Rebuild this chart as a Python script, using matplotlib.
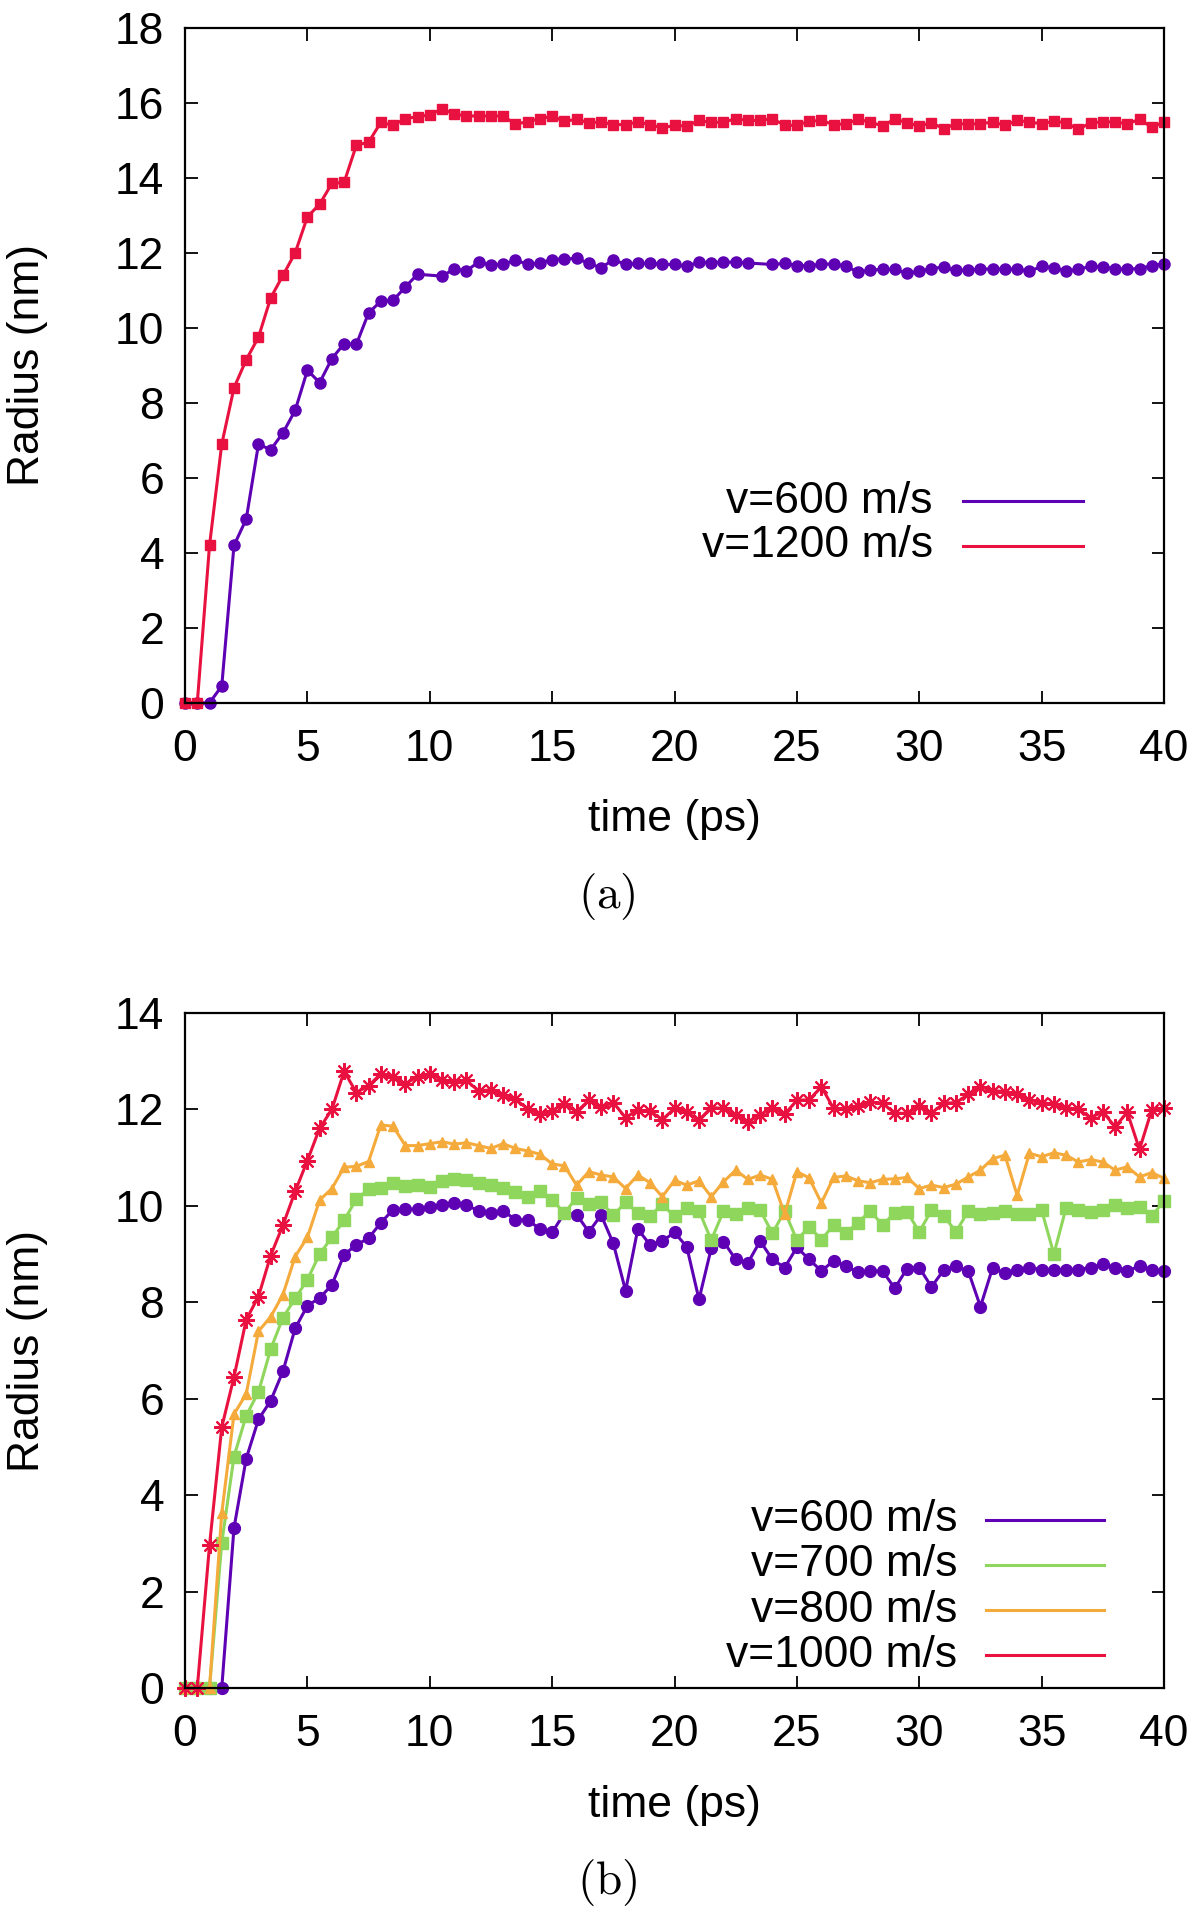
import numpy as np
import matplotlib
matplotlib.use("Agg")
import matplotlib.pyplot as plt

plt.rcParams['font.family'] = ['Liberation Sans', 'DejaVu Sans']
plt.rcParams['mathtext.fontset'] = 'cm'

# time axis, one sample every 0.5 ps
time_ps = np.arange(0, 40.01, 0.5)

# panel (a)
r_a_600 = [0, 0, 0, 0.45, 4.2, 4.9, 6.9, 6.75, 7.2, 7.8, 8.87, 8.54, 9.18, 9.58, 9.56, 10.4,
           10.71, 10.73, 11.09, 11.43, np.nan, 11.38, 11.57, 11.52, 11.76, 11.67, 11.7, 11.8, 11.7,
           11.73, 11.82, 11.84, 11.85, 11.72, 11.6, 11.82, 11.69, 11.72, 11.72, 11.69, 11.69, 11.64,
           11.76, 11.73, 11.76, 11.75, 11.73, np.nan, 11.69, 11.72, 11.66, 11.66, 11.69, 11.71, 11.64,
           11.49, 11.54, 11.56, 11.56, 11.45, 11.51, 11.58, 11.62, 11.53, 11.54, 11.57, 11.57, 11.57,
           11.56, 11.51, 11.64, 11.6, 11.51, 11.56, 11.64, 11.63, 11.57, 11.57, 11.58, 11.66, 11.71]
r_a_1200 = [0, 0, 4.2, 6.9, 8.4, 9.15, 9.75, 10.8, 11.4, 12.0, 12.96, 13.3, 13.85, 13.88, 14.87,
            14.95, 15.48, 15.4, 15.58, 15.63, 15.68, 15.84, 15.7, 15.65, 15.65, 15.65, 15.65, 15.43,
            15.5, 15.58, 15.64, 15.51, 15.56, 15.47, 15.49, 15.42, 15.42, 15.49, 15.42, 15.33, 15.4,
            15.38, 15.53, 15.48, 15.48, 15.58, 15.53, 15.53, 15.58, 15.4, 15.4, 15.51, 15.53, 15.42,
            15.44, 15.56, 15.49, 15.38, 15.57, 15.47, 15.38, 15.47, 15.31, 15.44, 15.44, 15.44, 15.49,
            15.4, 15.53, 15.49, 15.44, 15.51, 15.47, 15.29, 15.47, 15.49, 15.49, 15.44, 15.56, 15.35,
            15.49]

# panel (b)
r_b_600 = [0, 0, 0, 0, 3.32, 4.76, 5.57, 5.96, 6.57, 7.46, 7.93, 8.09, 8.36, 8.99, 9.19, 9.33,
           9.65, 9.92, 9.93, 9.93, 9.97, 10.02, 10.06, 10.01, 9.9, 9.85, 9.9, 9.71, 9.71, 9.52, 9.45,
           9.85, 9.82, 9.46, 9.81, 9.22, 8.24, 9.52, 9.19, 9.27, 9.45, 9.15, 8.06, 9.12, 9.26, 8.89,
           8.82, 9.27, 8.89, 8.72, 9.14, 8.89, 8.65, 8.86, 8.75, 8.62, 8.65, 8.65, 8.29, 8.7, 8.72,
           8.32, 8.67, 8.75, 8.65, 7.91, 8.72, 8.6, 8.67, 8.72, 8.68, 8.68, 8.68, 8.68, 8.72, 8.79,
           8.72, 8.65, 8.75, 8.67, 8.65]
r_b_700 = [0, 0, 0, 3.01, 4.8, 5.65, 6.14, 7.03, 7.68, 8.08, 8.47, 9.0, 9.35, 9.7, 10.14, 10.34,
           10.38, 10.48, 10.42, 10.44, 10.4, 10.52, 10.56, 10.54, 10.48, 10.44, 10.37, 10.29, 10.18,
           10.3, 10.13, 9.85, 10.17, 10.04, 10.07, 9.81, 10.07, 9.86, 9.79, 10.03, 9.78, 9.96, 9.9,
           9.29, 9.89, 9.83, 9.95, 9.91, 9.43, 9.89, 9.29, 9.57, 9.3, 9.6, 9.44, 9.65, 9.9, 9.6, 9.86,
           9.88, 9.46, 9.91, 9.8, 9.46, 9.89, 9.83, 9.86, 9.89, 9.84, 9.83, 9.91, 9.0, 9.96, 9.91,
           9.88, 9.91, 10.02, 9.96, 9.98, 9.79, 10.1]
r_b_800 = [0, 0, 0, 3.63, 5.68, 6.1, 7.4, 7.7, 8.16, 8.95, 9.35, 10.12, 10.36, 10.8, 10.82, 10.92,
           11.68, 11.65, 11.25, 11.25, 11.29, 11.33, 11.28, 11.31, 11.25, 11.19, 11.29, 11.19, 11.14,
           11.07, 10.87, 10.83, 10.43, 10.71, 10.64, 10.6, 10.36, 10.64, 10.48, 10.19, 10.53, 10.43,
           10.52, 10.19, 10.5, 10.74, 10.55, 10.64, 10.55, 9.83, 10.71, 10.58, 10.06, 10.59, 10.62,
           10.52, 10.48, 10.55, 10.56, 10.59, 10.36, 10.43, 10.38, 10.45, 10.6, 10.74, 10.98, 11.05,
           10.22, 11.09, 11.02, 11.1, 11.05, 10.91, 10.96, 10.91, 10.74, 10.81, 10.6, 10.69, 10.57]
r_b_1000 = [0, 0, 2.96, 5.41, 6.45, 7.64, 8.12, 8.97, 9.6, 10.3, 10.94, 11.61, 12.0, 12.79, 12.35,
            12.49, 12.74, 12.67, 12.53, 12.68, 12.74, 12.62, 12.57, 12.6, 12.38, 12.41, 12.29, 12.21,
            12.01, 11.91, 11.97, 12.12, 11.95, 12.19, 12.05, 12.14, 11.83, 11.99, 11.96, 11.79, 12.02,
            11.94, 11.78, 12.04, 12.02, 11.88, 11.74, 11.89, 12.03, 11.9, 12.19, 12.2, 12.47, 12.02,
            12.01, 12.07, 12.15, 12.13, 11.92, 11.92, 12.07, 11.92, 12.13, 12.14, 12.31, 12.47, 12.39,
            12.37, 12.32, 12.19, 12.14, 12.11, 12.04, 12.0, 11.83, 11.95, 11.64, 11.94, 11.17, 11.99,
            12.03]

PURPLE = '#5e00b3'
GREEN = '#8fd65c'
ORANGE = '#f5aa3c'
RED = '#e8113f'

FS = 32


def series(y):
    y = np.asarray(y, dtype=float)
    ok = ~np.isnan(y)
    return time_ps[ok], y[ok]


def style_axes(ax, ymax):
    ax.set_xlim(0, 40)
    ax.set_ylim(0, ymax)
    ax.set_xticks(np.arange(0, 41, 5))
    ax.set_yticks(np.arange(0, ymax + 1, 2))
    ax.tick_params(direction='in', top=True, right=True, length=9, width=1.3,
                   labelsize=FS)
    ax.tick_params(axis='x', pad=19)
    ax.tick_params(axis='y', pad=15)
    for s in ax.spines.values():
        s.set_linewidth(1.6)
    ax.set_xlabel('time (ps)', fontsize=FS)
    ax.set_ylabel('Radius (nm)', fontsize=FS)
    ax.xaxis.set_label_coords(0.5, -0.143)
    ax.yaxis.set_label_coords(-0.14, 0.5)


def key(ax, rows, x_text, x0, x1, y_top, dy):
    for i, (label, color) in enumerate(rows):
        y = y_top - i * dy
        ax.text(x_text, y, label, transform=ax.transAxes, ha='right', va='center',
                fontsize=FS)
        ax.plot([x0, x1], [y, y], transform=ax.transAxes, color=color, lw=2.2)


fig = plt.figure(figsize=(12, 19.2), dpi=100)
ax_a = fig.add_axes([0.1542, 0.6339, 0.8158, 0.3516])
ax_b = fig.add_axes([0.1542, 0.1208, 0.8158, 0.3516])

kw = dict(lw=2.2, clip_on=False)
ax_a.plot(*series(r_a_600), color=PURPLE, marker='o', ms=8, **kw)
ax_a.plot(*series(r_a_1200), color=RED, marker='s', ms=7.5, **kw)
style_axes(ax_a, 18)
key(ax_a, [('v=600 m/s', PURPLE), ('v=1200 m/s', RED)],
    0.764, 0.795, 0.917, 0.299, 0.066)

ax_b.plot(*series(r_b_600), color=PURPLE, marker='o', ms=8.5, **kw)
ax_b.plot(*series(r_b_700), color=GREEN, marker='s', ms=8, **kw)
ax_b.plot(*series(r_b_800), color=ORANGE, marker='^', ms=7, **kw)
ax_b.plot(*series(r_b_1000), color=RED, marker=(8, 2, 0), ms=12, mew=1.5, **kw)
style_axes(ax_b, 14)
key(ax_b, [('v=600 m/s', PURPLE), ('v=700 m/s', GREEN),
           ('v=800 m/s', ORANGE), ('v=1000 m/s', RED)],
    0.789, 0.818, 0.939, 0.249, 0.0667)

fig.text(0.506, 0.533, r'$\mathrm{(a)}$', ha='center', va='center', fontsize=34)
fig.text(0.506, 0.0193, r'$\mathrm{(b)}$', ha='center', va='center', fontsize=34)

fig.savefig('out.png', dpi=100)
